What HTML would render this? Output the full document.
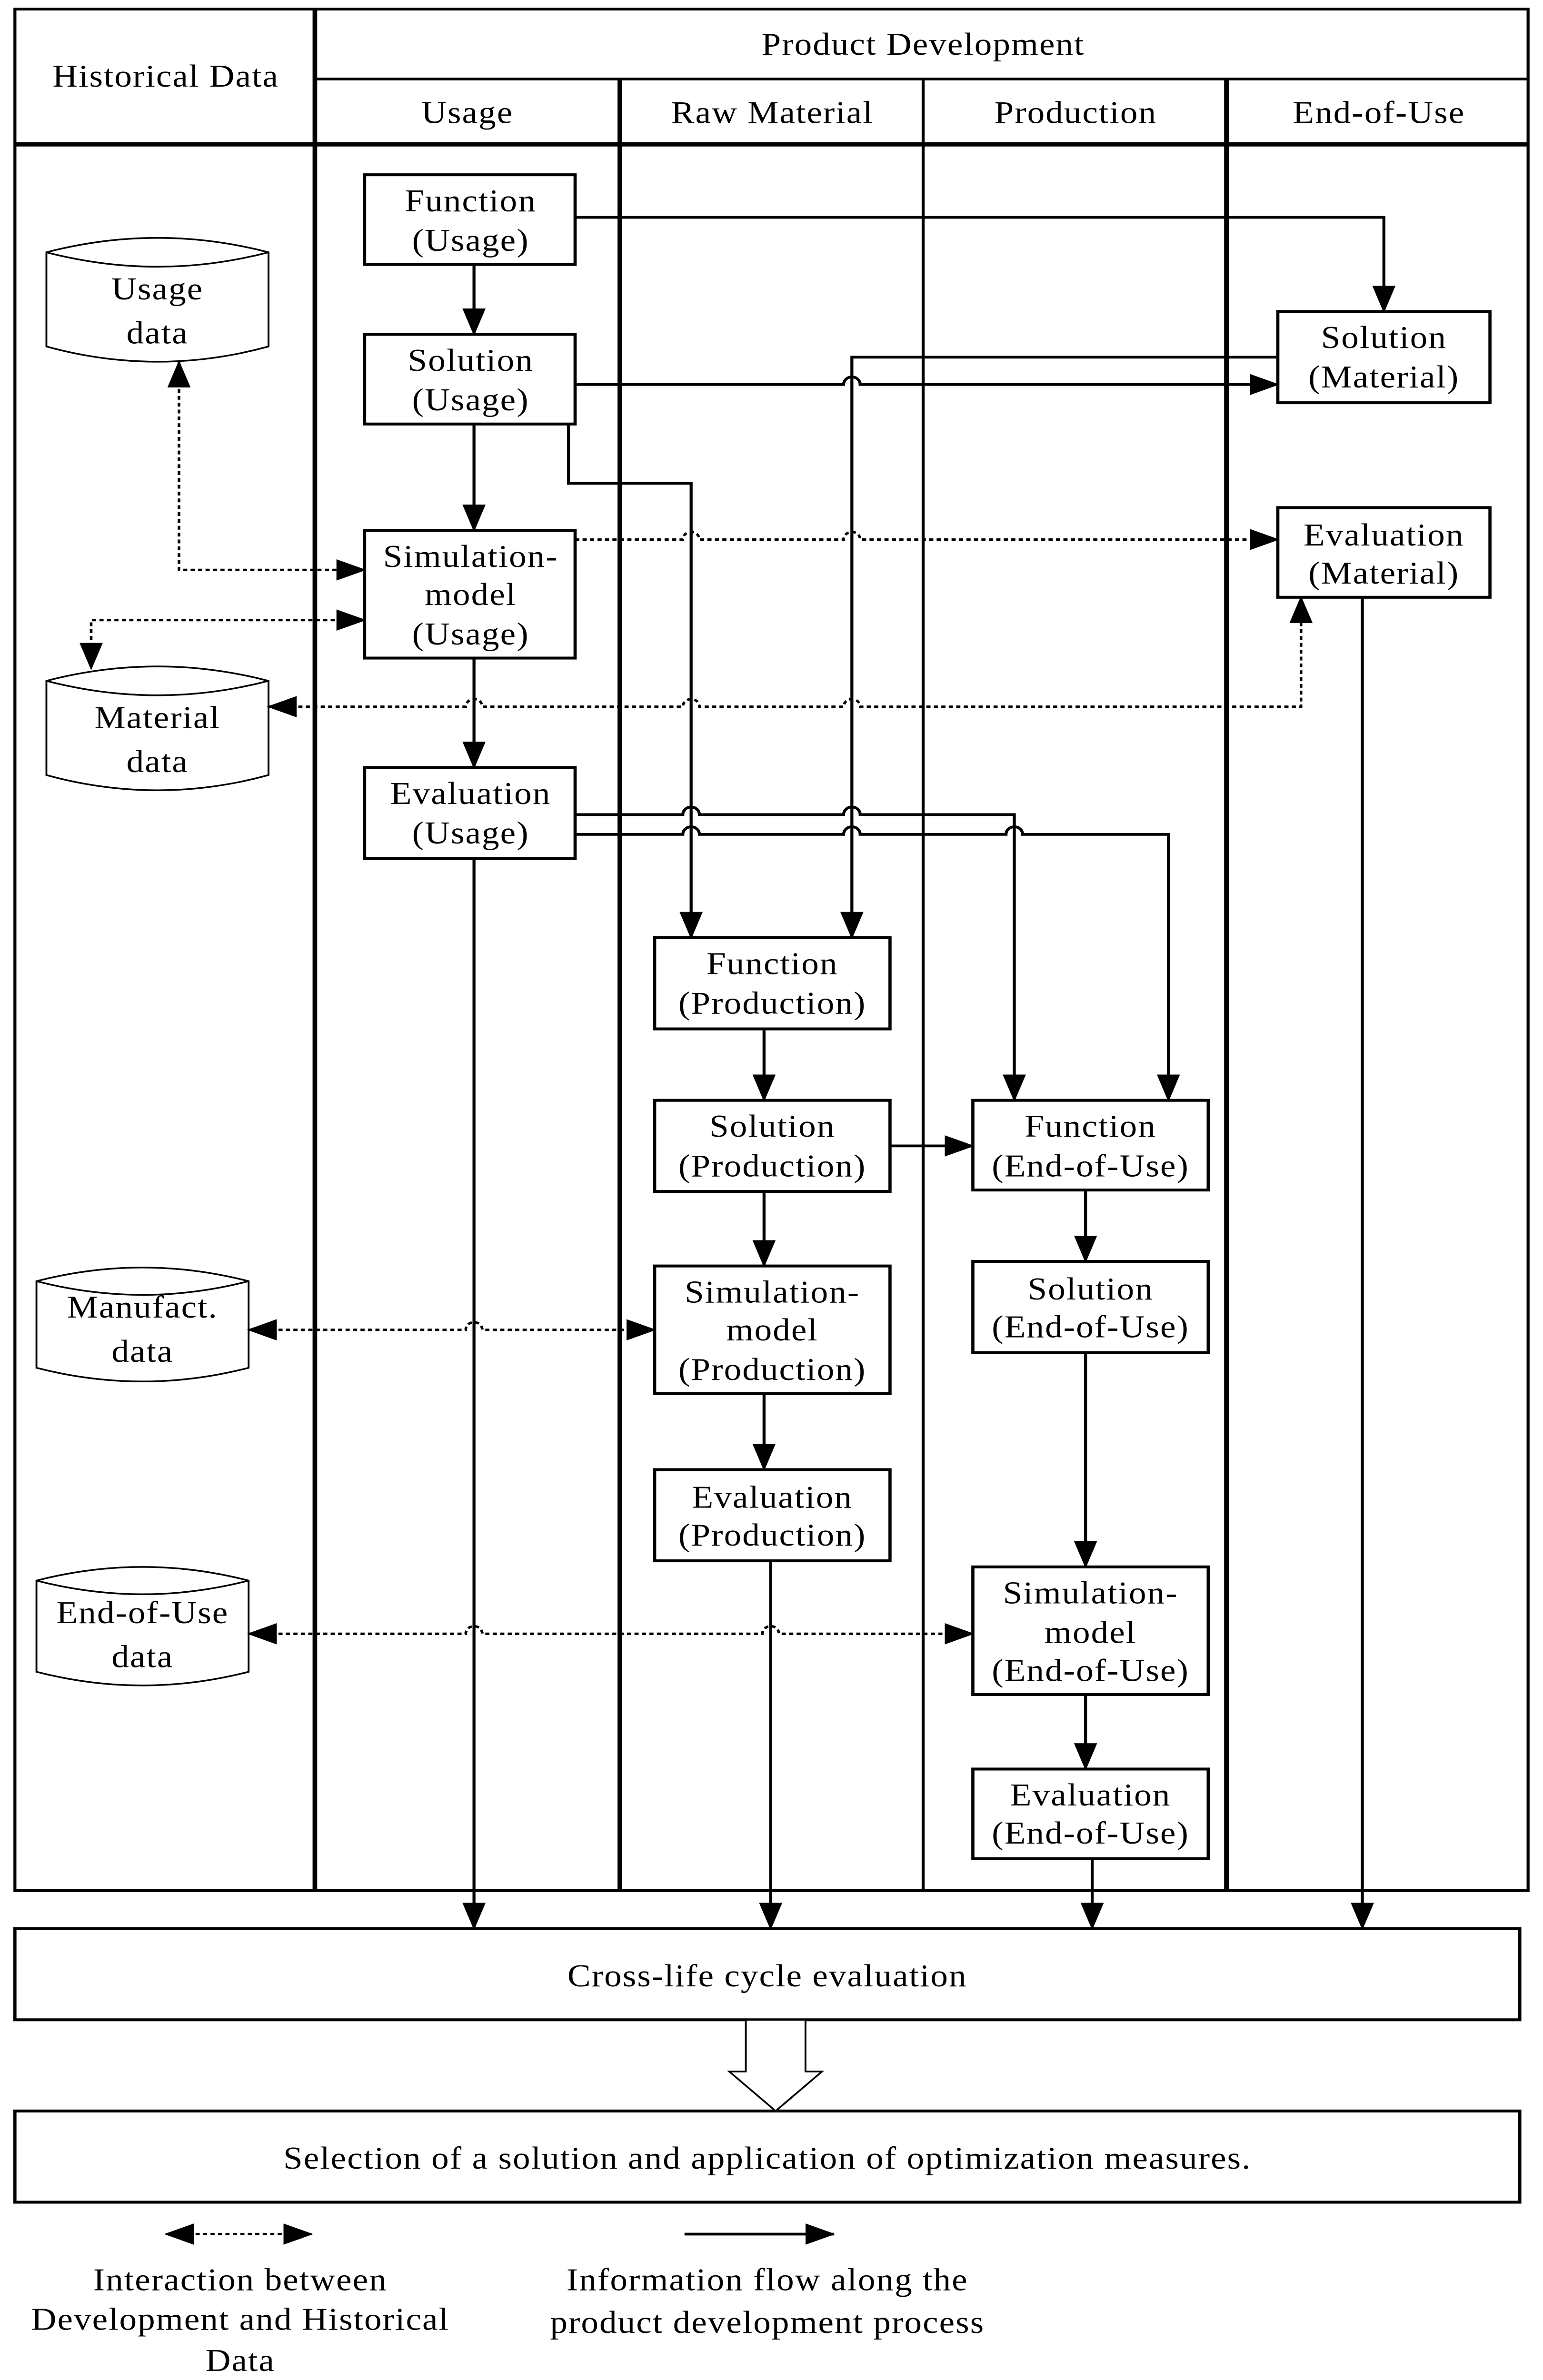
<!DOCTYPE html>
<html><head><meta charset="utf-8"><style>
html,body{margin:0;padding:0;background:#fff;width:100vw;height:100vh;overflow:hidden}
svg{display:block;width:100vw;height:100vh}
text{font-family:"Liberation Serif",serif;font-size:21px;letter-spacing:0.6px;fill:#000;text-anchor:middle}
</style></head><body>
<svg viewBox="0 0 931 1566" preserveAspectRatio="none" xmlns="http://www.w3.org/2000/svg">
<defs>
<marker id="a" markerUnits="userSpaceOnUse" markerWidth="18" markerHeight="14" refX="17" refY="7" orient="auto"><path d="M0,0 L18,7 L0,14 z" fill="#000"/></marker>
<marker id="s" markerUnits="userSpaceOnUse" markerWidth="18" markerHeight="14" refX="1" refY="7" orient="auto"><path d="M18,0 L0,7 L18,14 z" fill="#000"/></marker>
</defs>
<rect width="931" height="1566" fill="#fff"/>
<g fill="none" stroke="#000">
<rect x="9" y="6" width="913" height="1238" stroke-width="1.8"/>
<line x1="190" y1="52" x2="922" y2="52" stroke-width="1.8"/>
<line x1="9" y1="95" x2="922" y2="95" stroke-width="2.8"/>
<line x1="190" y1="6" x2="190" y2="1244" stroke-width="2.8"/>
<line x1="374" y1="52" x2="374" y2="1244" stroke-width="2.8"/>
<line x1="557" y1="52" x2="557" y2="1244" stroke-width="1.8"/>
<line x1="740" y1="52" x2="740" y2="1244" stroke-width="2.8"/>
</g>
<text x="100" y="57">Historical Data</text>
<text x="557" y="36">Product Development</text>
<text x="282" y="81">Usage</text>
<text x="466" y="81">Raw Material</text>
<text x="649" y="81">Production</text>
<text x="832" y="81">End-of-Use</text>

<g fill="#fff" stroke="#000" stroke-width="1.9">
<rect x="220" y="115" width="127" height="59"/>
<rect x="220" y="220" width="127" height="59"/>
<rect x="220" y="349" width="127" height="84"/>
<rect x="220" y="505" width="127" height="60"/>
<rect x="771" y="205" width="128" height="60"/>
<rect x="771" y="334" width="128" height="59"/>
<rect x="395" y="617" width="142" height="60"/>
<rect x="395" y="724" width="142" height="60"/>
<rect x="395" y="833" width="142" height="84"/>
<rect x="395" y="967" width="142" height="60"/>
<rect x="587" y="724" width="142" height="59"/>
<rect x="587" y="830" width="142" height="60"/>
<rect x="587" y="1031" width="142" height="84"/>
<rect x="587" y="1164" width="142" height="59"/>
<rect x="9" y="1269" width="908" height="60"/>
<rect x="9" y="1389" width="908" height="60"/>
</g>
<g fill="#fff" stroke="#000" stroke-width="1.1">
<path d="M28,166 Q95,147 162,166 V228 Q95,248 28,228 Z"/>
<path d="M28,166 Q95,185 162,166"/>
<path d="M28,448 Q95,429 162,448 V510 Q95,530 28,510 Z"/>
<path d="M28,448 Q95,467 162,448"/>
<path d="M22,843 Q86,825 150,843 V900 Q86,918 22,900 Z"/>
<path d="M22,843 Q86,861 150,843"/>
<path d="M22,1040 Q86,1022 150,1040 V1100 Q86,1118 22,1100 Z"/>
<path d="M22,1040 Q86,1058 150,1040"/>
<path d="M450,1329 H486 V1363 H496 L468,1389 L440,1363 H450 Z"/>
</g>
<g>
<text x="284" y="139">Function</text><text x="284" y="165">(Usage)</text>
<text x="284" y="244">Solution</text><text x="284" y="270">(Usage)</text>
<text x="284" y="373">Simulation-</text><text x="284" y="398">model</text><text x="284" y="424">(Usage)</text>
<text x="284" y="529">Evaluation</text><text x="284" y="555">(Usage)</text>
<text x="835" y="229">Solution</text><text x="835" y="255">(Material)</text>
<text x="835" y="359">Evaluation</text><text x="835" y="384">(Material)</text>
<text x="466" y="641">Function</text><text x="466" y="667">(Production)</text>
<text x="466" y="748">Solution</text><text x="466" y="774">(Production)</text>
<text x="466" y="857">Simulation-</text><text x="466" y="882">model</text><text x="466" y="908">(Production)</text>
<text x="466" y="992">Evaluation</text><text x="466" y="1017">(Production)</text>
<text x="658" y="748">Function</text><text x="658" y="774">(End-of-Use)</text>
<text x="658" y="855">Solution</text><text x="658" y="880">(End-of-Use)</text>
<text x="658" y="1055">Simulation-</text><text x="658" y="1081">model</text><text x="658" y="1106">(End-of-Use)</text>
<text x="658" y="1188">Evaluation</text><text x="658" y="1213">(End-of-Use)</text>
<text x="95" y="197">Usage</text><text x="95" y="226">data</text>
<text x="95" y="479">Material</text><text x="95" y="508">data</text>
<text x="86" y="867">Manufact.</text><text x="86" y="896">data</text>
<text x="86" y="1068">End-of-Use</text><text x="86" y="1097">data</text>
<text x="463" y="1307">Cross-life cycle evaluation</text>
<text x="463" y="1427">Selection of a solution and application of optimization measures.</text>
<text x="145" y="1507">Interaction between</text><text x="145" y="1533">Development and Historical</text><text x="145" y="1560">Data</text>
<text x="463" y="1507">Information flow along the</text><text x="463" y="1535">product development process</text>
</g>

<g fill="none" stroke="#000" stroke-width="1.8">
<path d="M347,143 H835 V205" marker-end="url(#a)"/>
<path d="M286,174 V220" marker-end="url(#a)"/>
<path d="M347,253 H509 a5,5 0 0 1 10,0 H771" marker-end="url(#a)"/>
<path d="M771,235 H514 V617" marker-end="url(#a)"/>
<path d="M343,279 V318 H417 V617" marker-end="url(#a)"/>
<path d="M286,279 V349" marker-end="url(#a)"/>
<path d="M286,433 V505" marker-end="url(#a)"/>
<path d="M347,536 H412 a5,5 0 0 1 10,0 H509 a5,5 0 0 1 10,0 H612 V724" marker-end="url(#a)"/>
<path d="M347,549 H412 a5,5 0 0 1 10,0 H509 a5,5 0 0 1 10,0 H607 a5,5 0 0 1 10,0 H705 V724" marker-end="url(#a)"/>
<path d="M286,565 V1269" marker-end="url(#a)"/>
<path d="M822,393 V1269" marker-end="url(#a)"/>
<path d="M461,677 V724" marker-end="url(#a)"/>
<path d="M537,754 H587" marker-end="url(#a)"/>
<path d="M461,784 V833" marker-end="url(#a)"/>
<path d="M461,917 V967" marker-end="url(#a)"/>
<path d="M465,1027 V1269" marker-end="url(#a)"/>
<path d="M655,783 V830" marker-end="url(#a)"/>
<path d="M655,890 V1031" marker-end="url(#a)"/>
<path d="M655,1115 V1164" marker-end="url(#a)"/>
<path d="M659,1223 V1269" marker-end="url(#a)"/>
<path d="M413,1470 H503" marker-end="url(#a)"/>
</g>
<g fill="none" stroke="#000" stroke-width="1.6" stroke-dasharray="2.5 2">
<path d="M347,355 H412 a5,5 0 0 1 10,0 H509 a5,5 0 0 1 10,0 H771" marker-end="url(#a)"/>
<path d="M108,238 V375 H220" marker-start="url(#s)" marker-end="url(#a)"/>
<path d="M220,408 H55 V440" marker-start="url(#s)" marker-end="url(#a)"/>
<path d="M162,465 H281 a5,5 0 0 1 10,0 H412 a5,5 0 0 1 10,0 H509 a5,5 0 0 1 10,0 H785 V393" marker-start="url(#s)" marker-end="url(#a)"/>
<path d="M150,875 H281 a5,5 0 0 1 10,0 H395" marker-start="url(#s)" marker-end="url(#a)"/>
<path d="M150,1075 H281 a5,5 0 0 1 10,0 H460 a5,5 0 0 1 10,0 H587" marker-start="url(#s)" marker-end="url(#a)"/>
<path d="M100,1470 H188" marker-start="url(#s)" marker-end="url(#a)"/>
</g>
</svg>
</body></html>
